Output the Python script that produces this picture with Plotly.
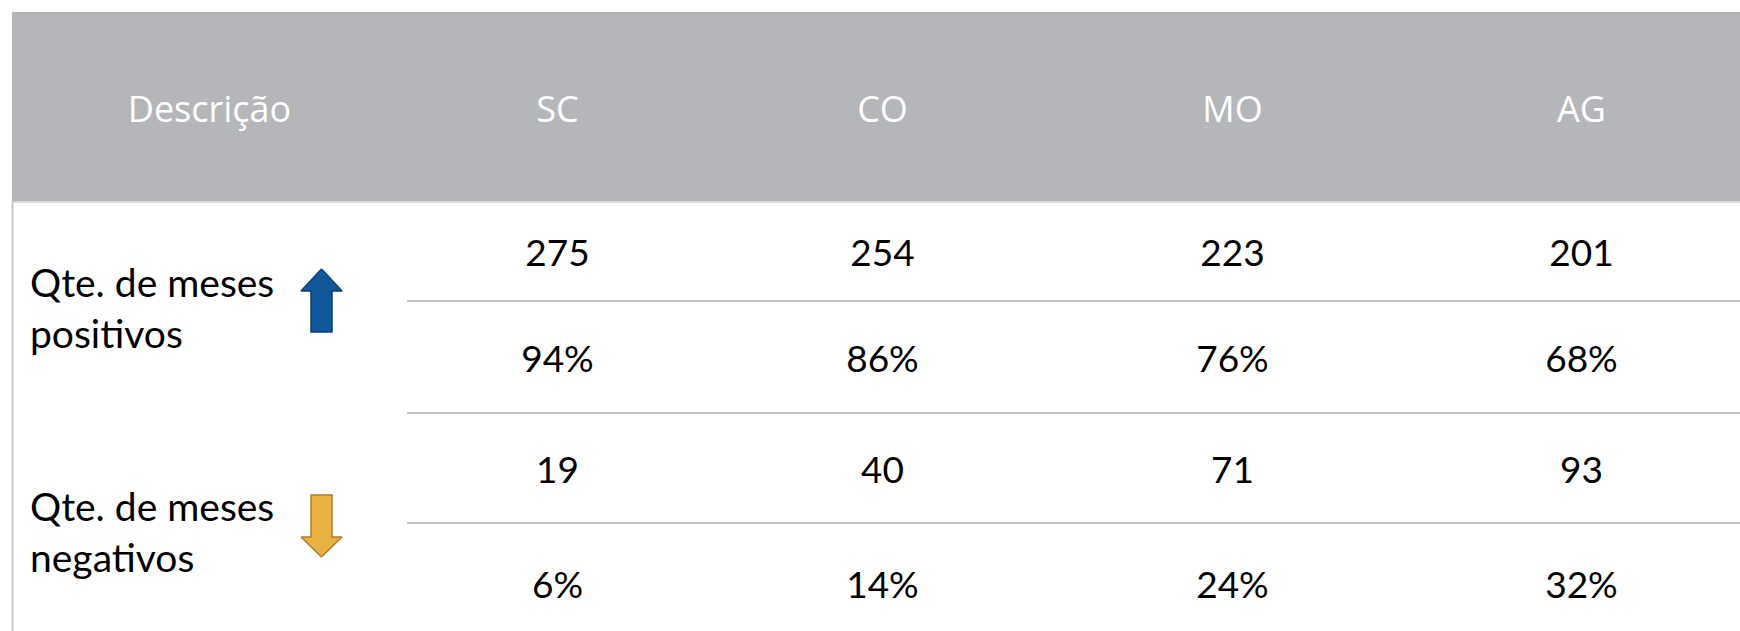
import plotly.graph_objects as go

# ---- data ----
columns = ["SC", "CO", "MO", "AG"]
header_label = "Descrição"
row_labels = ["Qte. de meses<br>positivos", "Qte. de meses<br>negativos"]
pos_counts = [275, 254, 223, 201]
pos_pct = ["94%", "86%", "76%", "68%"]
neg_counts = [19, 40, 71, 93]
neg_pct = ["6%", "14%", "24%", "32%"]

# ---- layout geometry (page pixel space) ----
W, H = 1740, 631
col_edges = [12, 407, 708, 1057, 1408, 1755]
header_top, header_bot = 12, 201
row_edges = [201, 301, 413, 523, 643]
TEXT_DY = 6  # visual correction for plotly's text middle alignment
HEADER_BG = "#B5B6BA"
LINE_C = "#C4C4C4"
BODY_FONT = "Lato"
HEAD_FONT = "Open Sans"

col_centers = [(col_edges[i] + col_edges[i + 1]) / 2 for i in range(len(col_edges) - 1)]
row_centers = [(row_edges[i] + row_edges[i + 1]) / 2 for i in range(len(row_edges) - 1)]

fig = go.Figure()

# header background
fig.add_shape(type="rect", x0=col_edges[0], x1=W + 20, y0=header_top, y1=header_bot,
              fillcolor=HEADER_BG, line_width=0, layer="below")
# header bottom light line
fig.add_shape(type="line", x0=col_edges[0], x1=W + 20, y0=header_bot + 1, y1=header_bot + 1,
              line=dict(color="#DADADA", width=2))
# left border
fig.add_shape(type="line", x0=col_edges[0] + 0.5, x1=col_edges[0] + 0.5, y0=header_bot, y1=H + 20,
              line=dict(color="#C8C8C8", width=2))
# horizontal separators inside data area
for y in row_edges[1:-1]:
    fig.add_shape(type="line", x0=col_edges[1], x1=W + 20, y0=y, y1=y,
                  line=dict(color=LINE_C, width=2))

# header texts
fig.add_trace(go.Scatter(
    x=col_centers, y=[(header_top + header_bot) / 2 + TEXT_DY] * 5,
    text=[header_label] + columns, mode="text", textposition="middle center",
    textfont=dict(family=HEAD_FONT, size=36, color="white", weight=400),
    hoverinfo="skip", showlegend=False))

# data values
rows = [pos_counts, pos_pct, neg_counts, neg_pct]
for r, vals in enumerate(rows):
    fig.add_trace(go.Scatter(
        x=col_centers[1:], y=[row_centers[r] + TEXT_DY] * len(vals),
        text=[str(v) for v in vals], mode="text", textposition="middle center",
        textfont=dict(family=BODY_FONT, size=37, color="black"),
        hoverinfo="skip", showlegend=False))

# row labels
label_y = [307, 531]
for lab, yy in zip(row_labels, label_y):
    fig.add_annotation(x=28, y=yy, text=lab, showarrow=False, xanchor="left", yanchor="middle",
                       align="left", font=dict(family=BODY_FONT, size=39, color="black"))

# arrows
def arrow(cx, y_tip, y_head, y_end, head_hw=20.5, shaft_hw=10.5):
    xs = [cx, cx + head_hw, cx + shaft_hw, cx + shaft_hw, cx - shaft_hw, cx - shaft_hw, cx - head_hw, cx]
    ys = [y_tip, y_head, y_head, y_end, y_end, y_head, y_head, y_tip]
    return xs, ys

ax, ay = arrow(321.5, 269, 291, 332)
fig.add_trace(go.Scatter(x=ax, y=ay, mode="lines", fill="toself", fillcolor="#10589A",
                         line=dict(color="#0C3F72", width=1.5), hoverinfo="skip", showlegend=False))
bx, by = arrow(321.5, 557, 537, 495)
fig.add_trace(go.Scatter(x=bx, y=by, mode="lines", fill="toself", fillcolor="#E9B143",
                         line=dict(color="#A87F2C", width=1.5), hoverinfo="skip", showlegend=False))

fig.update_layout(
    width=W, height=H, margin=dict(l=0, r=0, t=0, b=0),
    paper_bgcolor="white", plot_bgcolor="white",
    xaxis=dict(range=[0, W], visible=False, fixedrange=True),
    yaxis=dict(range=[H, 0], visible=False, fixedrange=True),
)

fig.write_html("out.html", config={"displayModeBar": False},
               post_script="document.documentElement.style.overflow='hidden';"
                           "document.body.style.overflow='hidden';"
                           "document.body.style.margin='0';")
